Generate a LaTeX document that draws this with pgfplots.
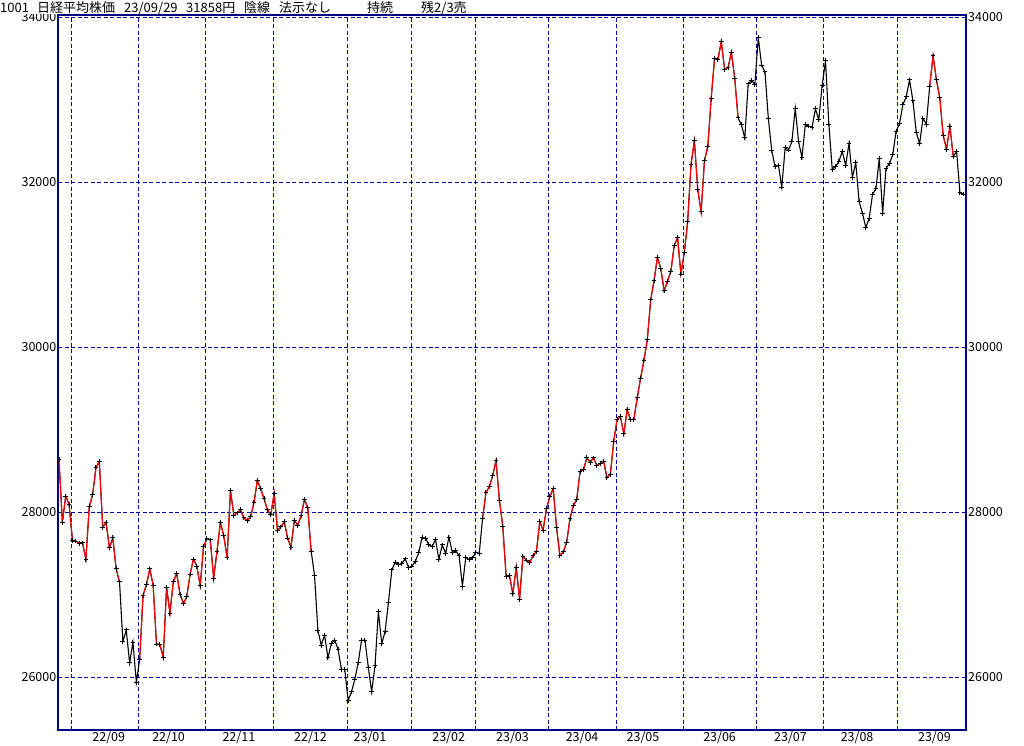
\documentclass[border=0pt]{standalone}
\usepackage{fontspec}
\setmainfont{Noto Sans CJK JP}
\usepackage{pgfplots}
\usepackage{pgfplotstable}
\pgfplotsset{compat=1.18}

\definecolor{framec}{RGB}{0,0,128}
\definecolor{gridc}{RGB}{0,0,170}
\tikzset{dashgrid/.style={draw=gridc, line width=0.9pt, dash pattern=on 4pt off 2.5pt}}

% Nikkei 225 daily close, 2022/08/26 - 2023/09/29 (one row per trading day)
\pgfplotstableread[row sep=\\]{
c\\
28641\\ 27878\\ 28195\\ 28091\\ 27661\\ 27650\\ 27619\\ 27626\\ 27430\\ 28065\\
28214\\ 28542\\ 28614\\ 27818\\ 27875\\ 27567\\ 27688\\ 27313\\ 27153\\ 26431\\
26571\\ 26173\\ 26422\\ 25937\\ 26215\\ 26992\\ 27120\\ 27311\\ 27116\\ 26401\\
26397\\ 26237\\ 27090\\ 26775\\ 27156\\ 27257\\ 27006\\ 26891\\ 26974\\ 27250\\
27431\\ 27345\\ 27105\\ 27587\\ 27678\\ 27663\\ 27199\\ 27527\\ 27872\\ 27716\\
27446\\ 28263\\ 27963\\ 27990\\ 28028\\ 27930\\ 27899\\ 27944\\ 28115\\ 28383\\
28283\\ 28162\\ 28027\\ 27968\\ 28226\\ 27777\\ 27820\\ 27885\\ 27686\\ 27574\\
27901\\ 27842\\ 27954\\ 28156\\ 28051\\ 27527\\ 27237\\ 26568\\ 26387\\ 26507\\
26235\\ 26405\\ 26447\\ 26340\\ 26093\\ 26094\\ 25716\\ 25820\\ 25973\\ 26175\\
26446\\ 26449\\ 26119\\ 25822\\ 26138\\ 26791\\ 26405\\ 26553\\ 26906\\ 27299\\
27395\\ 27362\\ 27382\\ 27433\\ 27327\\ 27346\\ 27402\\ 27509\\ 27693\\ 27685\\
27606\\ 27584\\ 27670\\ 27427\\ 27602\\ 27501\\ 27696\\ 27513\\ 27531\\ 27473\\
27104\\ 27453\\ 27423\\ 27445\\ 27516\\ 27498\\ 27927\\ 28237\\ 28309\\ 28444\\
28623\\ 28143\\ 27832\\ 27222\\ 27229\\ 27010\\ 27333\\ 26945\\ 27466\\ 27419\\
27385\\ 27476\\ 27518\\ 27883\\ 27782\\ 28041\\ 28188\\ 28287\\ 27813\\ 27472\\
27518\\ 27633\\ 27923\\ 28082\\ 28156\\ 28493\\ 28514\\ 28658\\ 28606\\ 28657\\
28564\\ 28593\\ 28620\\ 28416\\ 28457\\ 28856\\ 29123\\ 29157\\ 28949\\ 29242\\
29122\\ 29126\\ 29388\\ 29626\\ 29842\\ 30093\\ 30573\\ 30808\\ 31086\\ 30957\\
30682\\ 30801\\ 30916\\ 31233\\ 31328\\ 30887\\ 31148\\ 31524\\ 32217\\ 32506\\
31913\\ 31641\\ 32265\\ 32434\\ 33018\\ 33502\\ 33485\\ 33706\\ 33370\\ 33388\\
33575\\ 33264\\ 32781\\ 32698\\ 32538\\ 33193\\ 33234\\ 33189\\ 33753\\ 33422\\
33338\\ 32773\\ 32388\\ 32189\\ 32203\\ 31943\\ 32419\\ 32391\\ 32493\\ 32896\\
32490\\ 32304\\ 32700\\ 32682\\ 32668\\ 32891\\ 32759\\ 33172\\ 33476\\ 32707\\
32159\\ 32192\\ 32254\\ 32377\\ 32204\\ 32473\\ 32059\\ 32238\\ 31766\\ 31626\\
31450\\ 31565\\ 31856\\ 31921\\ 32287\\ 31624\\ 32169\\ 32227\\ 32333\\ 32619\\
32710\\ 32939\\ 33036\\ 33241\\ 32991\\ 32606\\ 32467\\ 32776\\ 32706\\ 33168\\
33533\\ 33242\\ 33023\\ 32571\\ 32402\\ 32678\\ 32315\\ 32371\\ 31872\\ 31858\\
}\nikkei

\pgfplotsset{
  chartbox/.style={
    at={(58pt,-730pt)}, anchor=south west,
    scale only axis, width=908pt, height=715pt,
    xmin=-0.3, xmax=269.8, ymin=25358, ymax=34029,
    major tick length=0pt,
    ytick={26000,28000,30000,32000,34000},
    yticklabels={26000,28000,30000,32000,34000},
    ticklabel style={font=\fontsize{12.5}{12.5}\selectfont, text=black},
  },
}

\begin{document}
\begin{tikzpicture}[x=1pt,y=1pt]
\path[use as bounding box] (0,0) rectangle (1024,-745);

\begin{axis}[chartbox,
    axis line style={framec, line width=1.3pt},
    xmajorgrids, ymajorgrids,
    major grid style={dashgrid},
    % month boundaries carry the grid, month names sit between them
    xtick={3.7,23.6,43.5,63.7,85.9,104.9,124.0,145.6,165.7,185.6,207.5,227.5,249.4},
    xticklabels={},
    extra x ticks={14.8,32.6,53.5,74.8,92.5,115.9,134.9,155.6,173.7,196.5,217.6,237.4,260.4},
    extra x tick labels={22/09,22/10,22/11,22/12,23/01,23/02,23/03,23/04,23/05,23/06,23/07,23/08,23/09},
    extra x tick style={grid=none, xticklabel style={anchor=north, inner sep=0pt, yshift=-1.5pt}},
    yticklabel style={anchor=east, inner sep=0pt, xshift=-1.5pt},
]
% whole series in black, then the red stretches over it
\addplot[black, line width=1.1pt] table[x expr=\coordindex, y=c] {\nikkei};
\addplot[red, line width=1.1pt, restrict x to domain=0:18] table[x expr=\coordindex, y=c] {\nikkei};
\addplot[red, line width=1.1pt, restrict x to domain=24:75] table[x expr=\coordindex, y=c] {\nikkei};
\addplot[red, line width=1.1pt, restrict x to domain=126:202] table[x expr=\coordindex, y=c] {\nikkei};
\addplot[red, line width=1.1pt, restrict x to domain=259:266] table[x expr=\coordindex, y=c] {\nikkei};
\addplot[only marks, mark=+, mark size=2.4pt, mark options={black, line width=1pt}]
  table[x expr=\coordindex, y=c] {\nikkei};
\end{axis}

% right-hand price labels
\begin{axis}[chartbox,
    axis line style={draw=none},
    xtick=\empty,
    yticklabel pos=right,
    yticklabel style={anchor=west, inner sep=0pt, xshift=2pt},
]
\addplot[draw=none] coordinates {(0,30000)};
\end{axis}

% title line
\fill[white] (0,0) rectangle (470,-13.5);
\begin{scope}[every node/.style={anchor=base west, inner sep=0pt, font=\fontsize{13}{13}\selectfont}]
\node at (0,-12) {1001};
\node at (37,-12) {日経平均株価};
\node at (124,-12) {23/09/29};
\node at (186,-12) {31858円};
\node at (244,-12) {陰線};
\node at (279,-12) {法示なし};
\node at (367,-12) {持続};
\node at (421,-12) {残2/3売};
\end{scope}
\end{tikzpicture}
\end{document}
